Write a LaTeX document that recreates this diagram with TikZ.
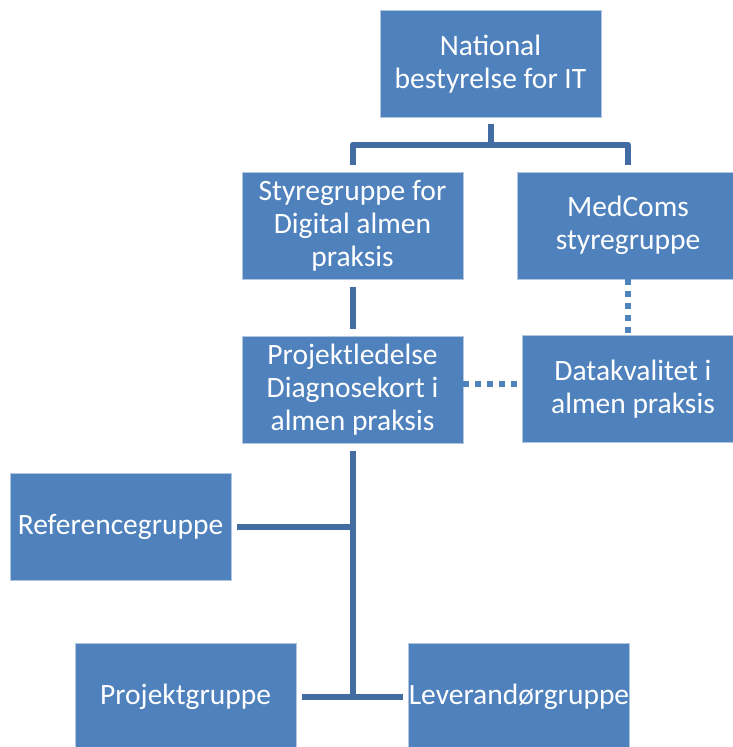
\documentclass[tikz,border=0pt]{standalone}
\usepackage{fontspec}
\setmainfont{Carlito}
\usetikzlibrary{calc}
\definecolor{boxblue}{RGB}{79,129,189}
\definecolor{lineblue}{RGB}{66,108,162}
\tikzset{
  box/.style = {rectangle, fill=boxblue, draw=white!55!boxblue, line width=0.8pt,
    minimum width=221pt, minimum height=107pt, inner xsep=0pt, inner ysep=2pt, align=center,
    text=white, font=\fontsize{29.5}{33}\selectfont},
  link/.style = {color=#1, line width=6pt, line join=round},
  dotlink/.style = {color=#1, line width=6pt, dash pattern=on 6pt off 6pt}
}

\begin{document}
\begin{tikzpicture}[x=1pt,y=-1pt]

    \useasboundingbox (0,0) rectangle (733,747);

    % Boxes
    \node[box] (natbest) at (490.5,64) {National\\bestyrelse for IT};
    \node[box] (styregrp) at (352.5,225.5) {Styregruppe for\\Digital almen\\praksis};
    \node[box] (medcoms) at (628,225.5) {MedComs\\styregruppe};
    \node[box] (projled) at (352.5,390) {Projektledelse\\Diagnosekort i\\almen praksis};
    \node[box] (datakval) at (633,389) {Datakvalitet i\\almen praksis};
    \node[box] (refgrp) at (120.5,527) {Referencegruppe};
    \node[box] (projgrp) at (185.5,697) {Projektgruppe};
    \node[box] (levgrp) at (519,697) {Leverandørgruppe};

    % Coordinates
    \coordinate (topfork) at ($(natbest.south)+(0,27)$);
    \coordinate (botjoint) at (projled.south |- projgrp.east);

    % Solid links
    \draw[link={lineblue}, shorten <=6pt] (natbest.south) -- (topfork);
    \draw[link={lineblue}, shorten <=7pt, shorten >=7pt] (styregrp.north) -- ++(0,-27) -| (medcoms.north);
    \draw[link={lineblue}, shorten <=8pt, shorten >=7pt] (styregrp.south) -- (projled.north);
    \draw[link={lineblue}, shorten <=7pt] (projled.south) -- (botjoint);
    \draw[link={lineblue}, shorten <=6pt] (refgrp.east) -- (refgrp.east -| projled.south);
    \draw[link={lineblue}, shorten <=6pt, shorten >=5pt] (projgrp.east) -- (levgrp.west);

    % Dotted links
    \draw[dotlink={boxblue}] (medcoms.south) -- (medcoms.south |- datakval.north);
    \draw[dotlink={boxblue}] (projled.east) ++(0,-6) -- (datakval.west |- 0,384);

\end{tikzpicture}
\end{document}
